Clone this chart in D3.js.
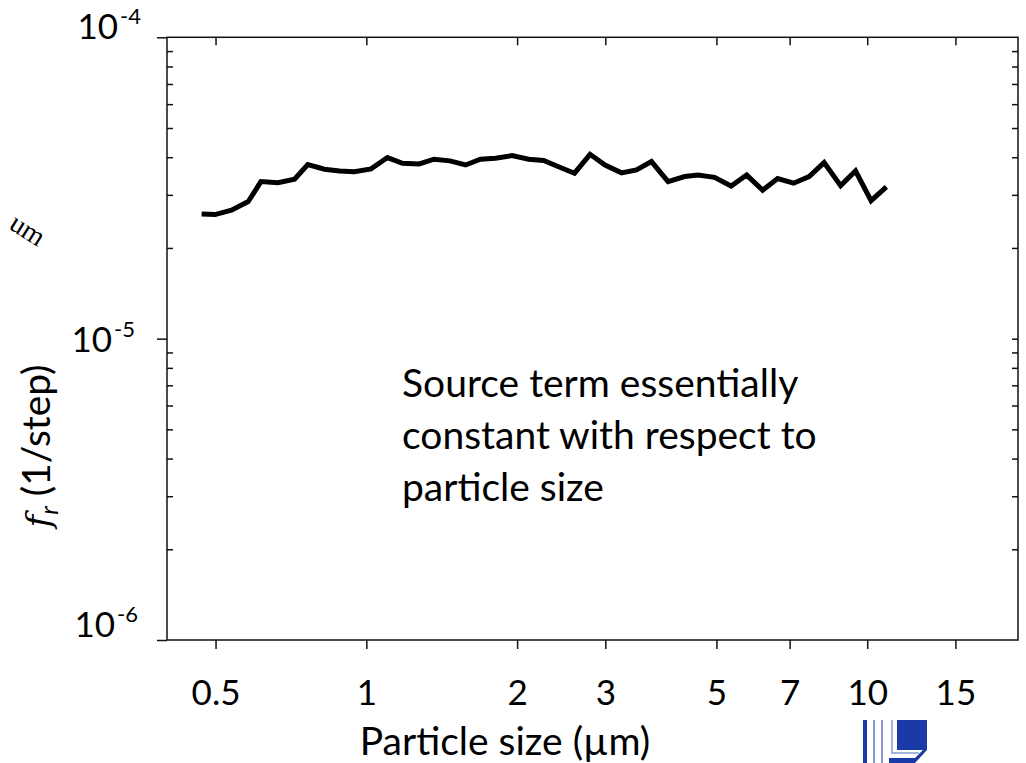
<!DOCTYPE html>
<html>
<head>
<meta charset="utf-8">
<script src="https://cdn.jsdelivr.net/npm/d3@7"></script>
<style>
  html, body { margin: 0; padding: 0; background: #fff; }
  svg { display: block; }
</style>
</head>
<body>
<svg id="chart" width="1026" height="763"></svg>
<script>
// particle size (um) and source term f_r (1/step)
const sizes = [0.469, 0.499, 0.538, 0.581, 0.616, 0.666, 0.719, 0.764, 0.825, 0.884,
               0.947, 1.022, 1.102, 1.181, 1.275, 1.365, 1.469, 1.578, 1.690, 1.811,
               1.954, 2.109, 2.259, 2.420, 2.604, 2.797, 2.996, 3.232, 3.462, 3.709,
               4.003, 4.321, 4.592, 4.957, 5.349, 5.746, 6.183, 6.624, 7.128, 7.656,
               8.202, 8.850, 9.478, 10.18, 10.92];
const fr = [2.59e-5, 2.58e-5, 2.67e-5, 2.85e-5, 3.32e-5, 3.29e-5, 3.38e-5, 3.78e-5, 3.65e-5, 3.60e-5,
            3.58e-5, 3.66e-5, 3.99e-5, 3.82e-5, 3.80e-5, 3.94e-5, 3.89e-5, 3.77e-5, 3.94e-5, 3.97e-5,
            4.05e-5, 3.94e-5, 3.90e-5, 3.72e-5, 3.54e-5, 4.09e-5, 3.77e-5, 3.55e-5, 3.63e-5, 3.87e-5,
            3.32e-5, 3.45e-5, 3.49e-5, 3.43e-5, 3.21e-5, 3.49e-5, 3.11e-5, 3.40e-5, 3.28e-5, 3.45e-5,
            3.84e-5, 3.22e-5, 3.60e-5, 2.87e-5, 3.19e-5];

const xTicks = [0.5, 1, 2, 3, 5, 7, 10, 15];
const yMajor = [1e-4, 1e-5, 1e-6];
const yMajorExp = ["-4", "-5", "-6"];
const yMinor = [2, 3, 4, 5, 6, 7, 8, 9].flatMap(m => [m * 1e-6, m * 1e-5]);

const note = ["Source term essentially", "constant with respect to", "particle size"];

const svg = d3.select("#chart");
const plotLeft = 167, plotRight = 1018, plotTop = 37.3, plotBottom = 640;
const sans = "Lato, 'Open Sans', sans-serif";

const x = d3.scaleLog().domain([0.4, 20]).range([plotLeft, plotRight]);
const y = d3.scaleLog().domain([1e-6, 1e-4]).range([plotBottom, plotTop]);

const axisColor = "#111";

// bottom axis: outward ticks
svg.append("g")
    .attr("transform", `translate(0,${plotBottom})`)
    .call(d3.axisBottom(x).tickValues(xTicks).tickSize(9).tickSizeOuter(0)
        .tickPadding(31).tickFormat(d3.format("")))
    .call(g => g.select(".domain").remove())
    .call(g => g.selectAll("line").attr("stroke", axisColor).attr("stroke-width", 1.5))
    .call(g => g.selectAll("text").attr("font-size", 35).attr("font-family", sans).attr("fill", "#000"));

// top axis: inward ticks
svg.append("g")
    .attr("transform", `translate(0,${plotTop})`)
    .call(d3.axisTop(x).tickValues(xTicks).tickSize(-8).tickSizeOuter(0).tickFormat(""))
    .call(g => g.select(".domain").remove())
    .call(g => g.selectAll("line").attr("stroke", axisColor).attr("stroke-width", 1.5));

// left axis: major outward, minor inward
svg.append("g")
    .attr("transform", `translate(${plotLeft},0)`)
    .call(d3.axisLeft(y).tickValues(yMajor).tickSize(10).tickSizeOuter(0).tickFormat(""))
    .call(g => g.select(".domain").remove())
    .call(g => g.selectAll("line").attr("stroke", axisColor).attr("stroke-width", 1.5));
svg.append("g")
    .attr("transform", `translate(${plotLeft},0)`)
    .call(d3.axisLeft(y).tickValues(yMinor).tickSize(-6).tickSizeOuter(0).tickFormat(""))
    .call(g => g.select(".domain").remove())
    .call(g => g.selectAll("line").attr("stroke", axisColor).attr("stroke-width", 1.5));

// right axis: inward
svg.append("g")
    .attr("transform", `translate(${plotRight},0)`)
    .call(d3.axisRight(y).tickValues(yMinor.concat([1e-5])).tickSize(-6).tickSizeOuter(0).tickFormat(""))
    .call(g => g.select(".domain").remove())
    .call(g => g.selectAll("line").attr("stroke", axisColor).attr("stroke-width", 1.5));

// frame
svg.append("rect")
    .attr("x", plotLeft).attr("y", plotTop)
    .attr("width", plotRight - plotLeft).attr("height", plotBottom - plotTop)
    .attr("fill", "none").attr("stroke", axisColor).attr("stroke-width", 1.5);

// y tick labels 10^n
const labelNudge = [-10, 1, -15];
const labelShift = [0, -6, -3];
yMajor.forEach((v, i) => {
    svg.append("text")
        .attr("x", 118 + labelShift[i]).attr("y", y(v) + labelNudge[i] + 12)
        .attr("text-anchor", "end")
        .attr("font-family", sans)
        .attr("font-size", 35)
        .text("10");
    svg.append("text")
        .attr("x", 120 + labelShift[i]).attr("y", y(v) + labelNudge[i] - 3)
        .attr("font-family", sans)
        .attr("font-size", 22)
        .text(yMajorExp[i]);
});

// data line
svg.append("path")
    .datum(sizes.map((s, i) => [s, fr[i]]))
    .attr("fill", "none")
    .attr("stroke", "#000")
    .attr("stroke-width", 5)
    .attr("stroke-linejoin", "miter")
    .attr("d", d3.line().x(d => x(d[0])).y(d => y(d[1])));

// annotation
svg.append("text")
    .attr("x", 402).attr("y", 397)
    .attr("font-family", sans)
    .attr("font-size", 39)
    .selectAll("tspan")
    .data(note)
    .join("tspan")
    .attr("x", 402)
    .attr("dy", (d, i) => i === 0 ? 0 : 52)
    .text(d => d);

// axis titles
svg.append("text")
    .attr("x", 505).attr("y", 755)
    .attr("text-anchor", "middle")
    .attr("font-family", sans)
    .attr("font-size", 39)
    .text("Particle size (µm)");

const yl = svg.append("text")
    .attr("transform", "translate(50,446) rotate(-90)")
    .attr("text-anchor", "middle")
    .attr("font-family", sans)
    .attr("font-size", 39);
yl.append("tspan").attr("font-style", "italic").attr("font-family", "'DejaVu Serif', serif").attr("font-size", 34).text("f");
yl.append("tspan").attr("font-style", "italic").attr("font-size", 25).attr("dy", 8).text("r");
yl.append("tspan").attr("dy", -8).text(" (1/step)");

// fragment of a cropped caption at the left edge
svg.append("text")
    .attr("transform", "translate(38,247) rotate(32)")
    .attr("text-anchor", "end")
    .attr("font-family", "'Liberation Serif', 'DejaVu Serif', serif")
    .attr("font-size", 28)
    .text("um");

// logo fragment at bottom right
const logo = svg.append("g");
logo.append("rect").attr("x", 863).attr("y", 720).attr("width", 4).attr("height", 43).attr("fill", "#1a3aa8");
logo.append("rect").attr("x", 873).attr("y", 720).attr("width", 2).attr("height", 43).attr("fill", "#8c9ad6");
logo.append("rect").attr("x", 881).attr("y", 720).attr("width", 2).attr("height", 43).attr("fill", "#8c9ad6");
logo.append("path")
    .attr("d", "M889,720 H927 V750 L915,763 H889 Z")
    .attr("fill", "#1a3aa8");
logo.append("path")
    .attr("d", "M889,720 H897 V750 H923 L915,758 H889 Z")
    .attr("fill", "#fff");
logo.append("path")
    .attr("d", "M892,720 V753 H919")
    .attr("fill", "none").attr("stroke", "#8c9ad6").attr("stroke-width", 1.5);
</script>
</body>
</html>
